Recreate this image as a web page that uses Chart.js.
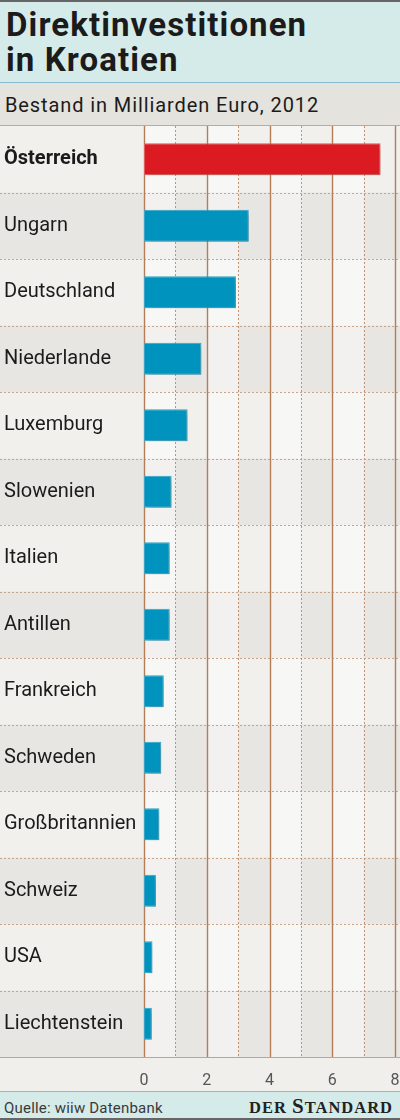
<!DOCTYPE html>
<html>
<head>
<meta charset="utf-8">
<script src="https://cdn.jsdelivr.net/npm/chart.js@4"></script>
<style>
  html, body { margin: 0; padding: 0; }
  body { width: 400px; height: 1120px; position: relative; overflow: hidden; background: #f0efec; font-family: Roboto, sans-serif; }
  .abs { position: absolute; }
  #head { left: 0; top: 0; width: 400px; height: 80px; background: #d5ebe9; border-top: 2px solid #666; border-bottom: 1px solid #86bccd; }
  #title { left: 6px; top: 7px; font-size: 33px; line-height: 35px; font-weight: bold; color: #1b1b1b; letter-spacing: 1.1px; }
  #sub { left: 0; top: 83px; width: 400px; height: 42px; background: #e5e3de; border-bottom: 1px solid #c9a78c; }
  #subtitle { left: 5px; top: 93px; font-size: 20px; line-height: 24px; color: #1b1b1b; letter-spacing: 0.9px; }
  #wrap { left: 0; top: 126px; width: 400px; height: 965px; }
  #foot { left: 0; top: 1091px; width: 400px; height: 26px; background: #d5ebe9; border-top: 1px solid #86bccd; border-bottom: 2px solid #666; }
  #source { left: 4px; top: 1099px; font-size: 15px; line-height: 18px; color: #3a3a3a; letter-spacing: 0.2px; }
  #brand { right: 7px; top: 1095px; font-family: "Liberation Serif", "DejaVu Serif", serif; font-weight: bold; line-height: 22px; color: #222; letter-spacing: 1px; white-space: nowrap; }
  #brand .sc { font-size: 16.5px; }
  #brand .big { font-size: 21px; }
</style>
</head>
<body>
  <div id="head" class="abs"></div>
  <div id="title" class="abs">Direktinvestitionen<br>in Kroatien</div>
  <div id="sub" class="abs"></div>
  <div id="subtitle" class="abs">Bestand in Milliarden Euro, 2012</div>
  <div id="wrap" class="abs"><canvas id="chart" width="400" height="965"></canvas></div>
  <div id="foot" class="abs"></div>
  <div id="source" class="abs">Quelle: wiiw Datenbank</div>
  <div id="brand" class="abs"><span class="sc">DER </span><span class="big">S</span><span class="sc">TANDARD</span></div>

<script>
// Data
const countries = ['Österreich', 'Ungarn', 'Deutschland', 'Niederlande', 'Luxemburg', 'Slowenien', 'Italien',
  'Antillen', 'Frankreich', 'Schweden', 'Großbritannien', 'Schweiz', 'USA', 'Liechtenstein'];
const stock = [7.54, 3.34, 2.93, 1.83, 1.39, 0.88, 0.82, 0.82, 0.63, 0.55, 0.49, 0.38, 0.27, 0.25];
const xTicks = [0, 2, 4, 6, 8];

// Row shading, column stripes, grid and bar shadows
const backdrop = {
  id: 'backdrop',
  beforeDraw(chart) {
    const { ctx, chartArea: a, scales: { x, y } } = chart;
    ctx.save();
    ctx.fillStyle = '#f0efec';
    ctx.fillRect(0, 0, chart.width, chart.height);
    countries.forEach((c, i) => {
      const p1 = y.getPixelForValue(i - 0.5), p2 = y.getPixelForValue(i + 0.5);
      ctx.fillStyle = i % 2 ? '#e8e6e2' : '#f1f0ed';
      ctx.fillRect(0, Math.min(p1, p2), chart.width, Math.abs(p2 - p1));
    });
    ctx.fillStyle = 'rgba(255,255,255,0.45)';
    for (let v = 0; v < 8; v += 2) {
      const l = x.getPixelForValue(v), r = x.getPixelForValue(v + 1);
      ctx.fillRect(l, a.top, r - l, a.bottom - a.top);
    }
    ctx.restore();
  },
  beforeDatasetsDraw(chart) {
    const { ctx, chartArea: a, scales: { x, y } } = chart;
    ctx.save();
    // horizontal dotted separators
    ctx.strokeStyle = '#c9a487';
    ctx.lineWidth = 1;
    ctx.setLineDash([2, 2]);
    for (let i = 0; i < countries.length - 1; i++) {
      const py = Math.round(y.getPixelForValue(i + 0.5)) + 0.5;
      ctx.beginPath(); ctx.moveTo(0, py); ctx.lineTo(chart.width, py); ctx.stroke();
    }
    // vertical grid: solid on even, dotted on odd
    for (let v = 0; v <= 8; v++) {
      const px = Math.round(x.getPixelForValue(v)) + 0.5;
      if (v % 2) { ctx.setLineDash([2, 2]); ctx.strokeStyle = '#bf9475'; ctx.lineWidth = 1; }
      else { ctx.setLineDash([]); ctx.strokeStyle = '#b37d57'; ctx.lineWidth = 1.4; }
      ctx.beginPath(); ctx.moveTo(px, a.top); ctx.lineTo(px, a.bottom); ctx.stroke();
    }
    ctx.setLineDash([]);
    ctx.strokeStyle = '#c4a387';
    ctx.lineWidth = 1;
    ctx.beginPath(); ctx.moveTo(0, a.bottom + 0.5); ctx.lineTo(chart.width, a.bottom + 0.5); ctx.stroke();
    ctx.restore();
    ctx.save();
    ctx.shadowColor = 'rgba(0,0,0,0.2)';
    ctx.shadowBlur = 6;
    ctx.shadowOffsetX = 3;
    ctx.shadowOffsetY = 3;
  },
  afterDatasetsDraw(chart) {
    chart.ctx.restore();
  }
};

new Chart(document.getElementById('chart').getContext('2d'), {
  type: 'bar',
  data: {
    labels: countries,
    datasets: [{
      data: stock,
      backgroundColor: stock.map((v, i) => i === 0 ? '#dc1a22' : '#0093be'),
      borderColor: stock.map((v, i) => i === 0 ? '#e5625e' : '#3aa8cc'),
      borderWidth: 1,
      borderSkipped: false,
      barPercentage: 0.48,
      categoryPercentage: 1
    }]
  },
  options: {
    indexAxis: 'y',
    responsive: false,
    animation: false,
    layout: { padding: { left: 4, right: 5, top: 0, bottom: 0 } },
    scales: {
      x: {
        min: 0,
        max: 8,
        afterBuildTicks: s => { s.ticks = xTicks.map(v => ({ value: v })); },
        ticks: { color: '#555', font: { family: 'Roboto', size: 16 }, padding: 6, maxRotation: 0 },
        grid: { display: false },
        border: { display: false },
        afterFit: s => { s.height = 34; s.paddingLeft = 0; s.paddingRight = 0; }
      },
      y: {
        ticks: {
          crossAlign: 'far',
          color: '#1b1b1b',
          padding: 0,
          font: c => ({ family: 'Roboto', size: 20, weight: c.index === 0 ? 'bold' : 'normal' })
        },
        grid: { display: false },
        border: { display: false },
        afterFit: s => { s.width = 140; s.paddingTop = 0; s.paddingBottom = 0; }
      }
    },
    plugins: {
      legend: { display: false },
      tooltip: { enabled: false }
    }
  },
  plugins: [backdrop]
});
</script>
</body>
</html>
